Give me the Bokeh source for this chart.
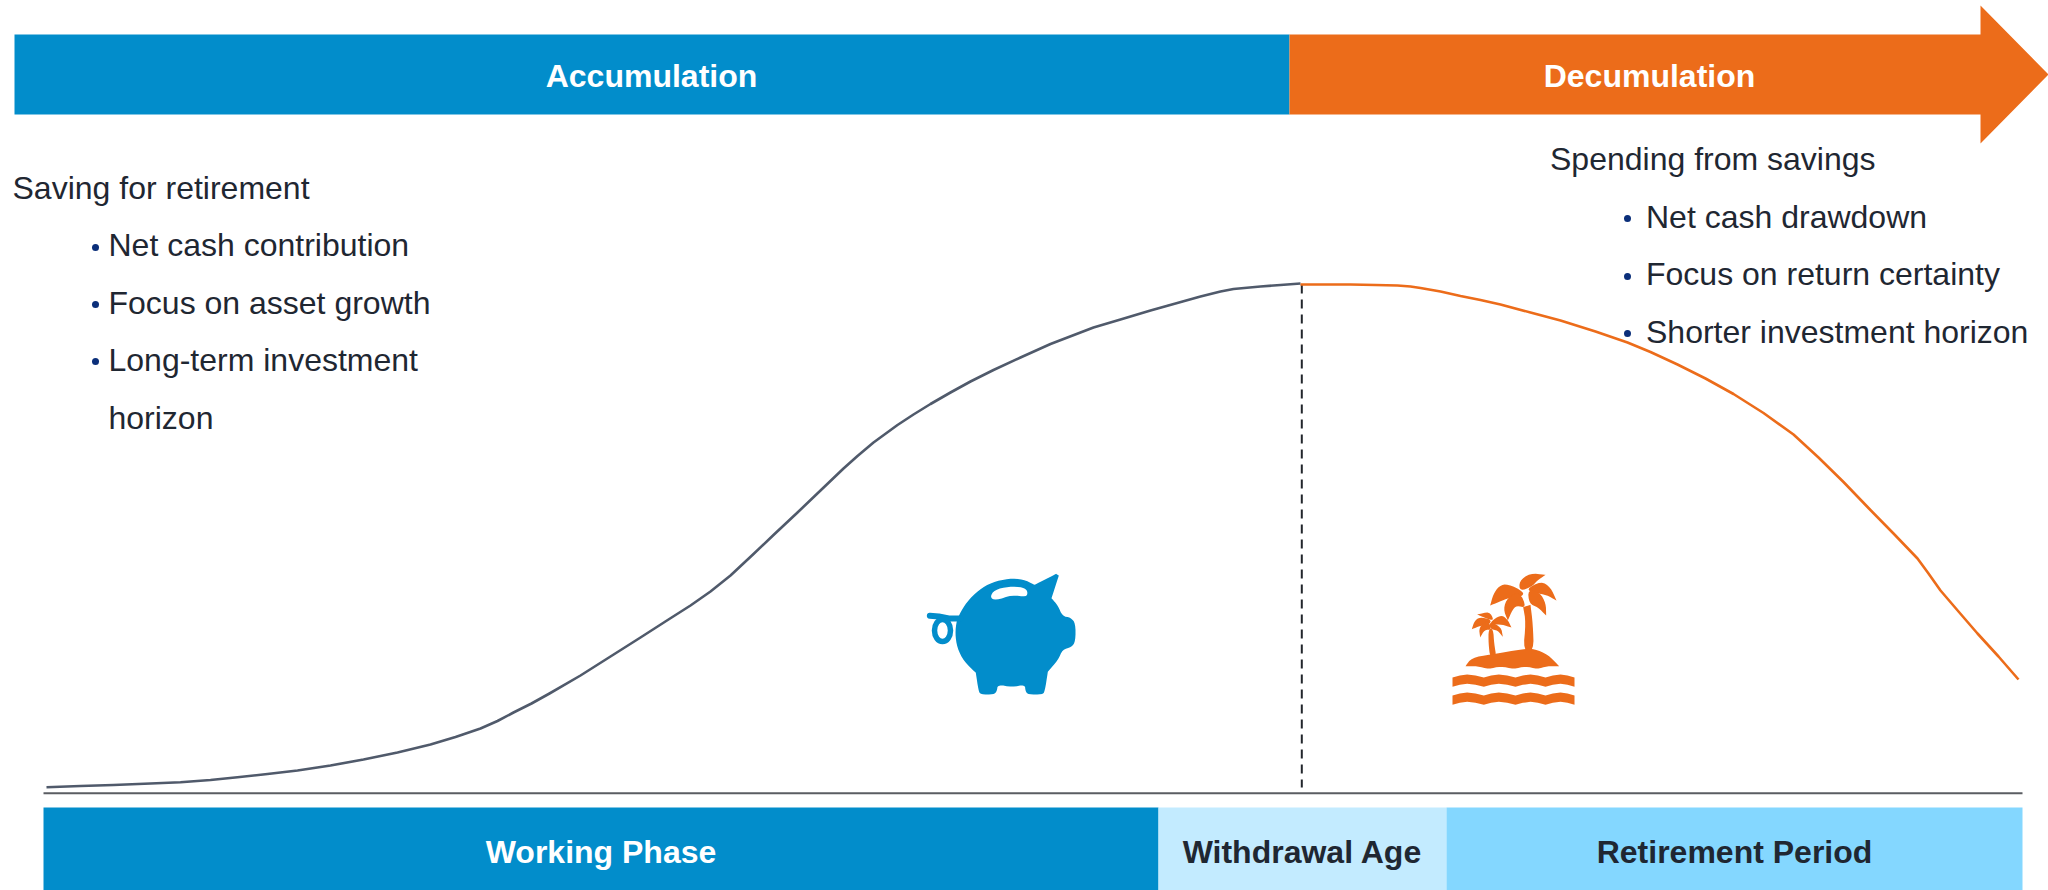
from bokeh.plotting import figure
from bokeh.embed import file_html
from bokeh.resources import INLINE
from bokeh.core.properties import value
from bokeh.models import Range1d

FONT = "Liberation Sans"
BLUE = "#028dcb"
ORANGE = "#ec6c1a"
INK = "#1f2732"

# Curves (chart coordinates = reference pixels)
accum_x = [46, 80, 113, 150, 180, 210, 237, 267, 297, 330, 363, 397, 430, 455, 480, 497, 513, 531, 549, 580, 610,
           640, 668, 690, 710, 730, 753, 773, 797, 820, 843, 857, 873, 897, 913, 930, 950, 970, 993, 1020,
           1050, 1093, 1120, 1150, 1175, 1200, 1220, 1233, 1260, 1280, 1300]
accum_y = [786.7, 785.5, 784.5, 783, 781.7, 779.5, 776.7, 773.5, 770, 765, 759, 752, 744, 736.5, 728, 720.5, 712, 703, 693, 675, 656,
           637, 619, 605, 591, 575, 553.5, 534.5, 512, 490, 468, 455.5, 442, 424.5, 414, 403.5, 392, 381, 369.5, 357,
           343.5, 327, 319, 310, 303, 296, 291, 288.5, 286, 284.5, 283]
decum_x = [1300, 1350, 1375, 1397, 1410, 1420, 1440, 1460, 1480, 1500, 1530, 1560, 1595, 1627, 1650, 1677, 1705, 1733,
           1763, 1793, 1818, 1843, 1868, 1893, 1917, 1928, 1940, 1958, 1977, 1998, 2018]
decum_y = [284, 284, 284.5, 285, 286, 287.5, 291, 295.5, 299.5, 304, 312, 320, 331, 342, 351.5, 364, 378, 393.5,
           412.5, 434, 457, 481.5, 507.5, 533, 558, 573, 590, 611, 633, 656, 679]

# Bands
top_labels = ["Accumulation", "Decumulation"]
top_label_x = [651, 1649]
bottom_labels = ["Working Phase", "Withdrawal Age", "Retirement Period"]
bottom_left = [43, 1158, 1446]
bottom_right = [1158, 1446, 2022]
bottom_colors = [BLUE, "#c3ebff", "#84d7ff"]
bottom_text_colors = ["#ffffff", INK, INK]
bottom_label_x = [600.5, 1302, 1734]

left_notes = ["Saving for retirement", "Net cash contribution", "Focus on asset growth", "Long-term investment", "horizon"]
left_note_x = [12, 108, 108, 108, 108]
left_note_y = [187, 244.5, 302, 359.5, 417]
left_bullet_x = [95, 95, 95]
left_bullet_y = [247, 304, 361]
right_notes = ["Spending from savings", "Net cash drawdown", "Focus on return certainty", "Shorter investment horizon"]
right_note_x = [1549.5, 1645.5, 1645.5, 1645.5]
right_note_y = [158, 216, 273, 331]
right_bullet_x = [1627, 1627, 1627]
right_bullet_y = [218, 276, 333]

p = figure(width=2048, height=890, x_range=Range1d(0, 2048), y_range=Range1d(890, 0),
           x_axis_type=None, y_axis_type=None, toolbar_location=None, output_backend="svg",
           min_border=0, outline_line_color=None, background_fill_color="white")
p.grid.visible = False

# top band
p.quad(left=[14], right=[1289], top=[34], bottom=[114], fill_color=BLUE, line_color=None)
p.patch(x=[1289, 1980, 1980, 2048, 1980, 1980, 1289], y=[34, 34, 5, 74, 143, 114, 114],
        fill_color=ORANGE, line_color=None)
p.text(x=top_label_x, y=[75, 75], text=top_labels, text_font=value(FONT), text_font_size="32px",
       text_font_style="bold", text_color="#ffffff", text_align="center", text_baseline="alphabetic")

# bottom bands
p.quad(left=bottom_left, right=bottom_right, top=[807] * 3, bottom=[890] * 3,
       fill_color=bottom_colors, line_color=None)
p.text(x=bottom_label_x, y=[851.5] * 3, text=bottom_labels, text_font=value(FONT), text_font_size="32px",
       text_font_style="bold", text_color=bottom_text_colors, text_align="center", text_baseline="alphabetic")
p.line(x=[43, 2022], y=[792.7, 792.7], line_color="#5a5d62", line_width=2)

# curves
p.line(x=[1301.3, 1301.3], y=[284, 787], line_color="#22262c", line_width=2, line_dash="9 6")
p.line(x=accum_x, y=accum_y, line_color="#505a6b", line_width=2.6, line_join="round")
p.line(x=decum_x, y=decum_y, line_color=ORANGE, line_width=2.6, line_join="round")

# notes
p.text(x=left_note_x, y=left_note_y, text=left_notes, text_font=value(FONT), text_font_size="32px",
       text_color=INK, text_baseline="alphabetic")
p.text(x=right_note_x, y=right_note_y, text=right_notes, text_font=value(FONT), text_font_size="32px",
       text_color=INK, text_baseline="alphabetic")
p.scatter(x=left_bullet_x + right_bullet_x, y=left_bullet_y + right_bullet_y, size=7,
          fill_color="#0b2f7a", line_color=None)


def smooth(pts, n=2):
    for _ in range(n):
        out = []
        m = len(pts)
        for i in range(m):
            a, b = pts[i], pts[(i + 1) % m]
            out.append((0.75 * a[0] + 0.25 * b[0], 0.75 * a[1] + 0.25 * b[1]))
            out.append((0.25 * a[0] + 0.75 * b[0], 0.25 * a[1] + 0.75 * b[1]))
        pts = out
    return pts


def icon(pts, ox, oy, color, p=p, do_smooth=True):
    q = smooth(pts) if do_smooth else pts
    p.patch(x=[ox + a / 3 for a, _ in q], y=[oy + b / 3 for _, b in q], fill_color=color, line_color=None)


# piggy bank icon
PX, PY = 880, 550
pig = [(236, 193), (258, 155), (295, 118), (335, 95), (385, 84), (428, 86), (462, 103), (462, 103),
       (527, 70), (527, 70), (535, 75), (535, 75), (513, 143), (513, 143), (532, 165), (546, 197), (570, 201),
       (585, 218), (585, 272), (573, 290), (546, 297), (533, 328), (502, 364), (502, 364), (493, 422), (486, 432),
       (443, 432), (435, 422), (433, 402), (395, 410), (352, 402), (349, 422), (340, 432), (300, 432), (294, 420),
       (286, 367), (286, 367), (250, 332), (230, 292), (224, 250), (228, 212)]
icon(pig, PX, PY, BLUE)
slot = [(328, 140), (342, 118), (385, 108), (428, 110), (442, 122), (438, 140), (395, 133), (345, 150)]
icon(slot, PX, PY, "#ffffff")
p.line(x=[PX + a / 3 for a in [148, 175, 205, 240]], y=[PY + b / 3 for b in [196, 198, 204, 204]],
       line_color=BLUE, line_width=6, line_cap="round", line_join="round")
p.ellipse(x=[PX + 186 / 3], y=[PY + 240 / 3], width=[48 / 3], height=[66 / 3], fill_color=None,
          line_color=BLUE, line_width=5.5)

# island icon
IX, IY = 1420, 550
shapes = [
    [(308, 302), (316, 215), (308, 170), (308, 170), (330, 163), (330, 163), (337, 220), (340, 302)],
    [(310, 124), (262, 100), (236, 106), (218, 132), (209, 165), (209, 165), (245, 150), (272, 140), (305, 138)],
    [(298, 124), (262, 140), (248, 175), (262, 210), (262, 210), (276, 178), (288, 165), (318, 172)],
    [(298, 122), (296, 92), (328, 68), (375, 73), (375, 73), (348, 92), (335, 108)],
    [(316, 116), (362, 92), (390, 110), (408, 150), (408, 150), (378, 133), (345, 128)],
    [(322, 116), (358, 126), (376, 158), (377, 195), (377, 195), (352, 170), (326, 160)],
    [(204, 235), (218, 235), (221, 280), (228, 322), (209, 322), (204, 280)],
    [(210, 206), (178, 200), (162, 211), (154, 236), (154, 236), (180, 226), (210, 220)],
    [(207, 208), (170, 192), (170, 192), (207, 183), (220, 208)],
    [(210, 214), (240, 193), (260, 205), (273, 231), (273, 231), (245, 222), (214, 222)],
    [(202, 208), (175, 230), (179, 261), (179, 261), (192, 238), (214, 238)],
    [(208, 212), (242, 230), (247, 259), (247, 259), (232, 240), (208, 235)],
    [(135, 347), (135, 347), (153, 322), (210, 312), (310, 295), (342, 295), (382, 312), (416, 347), (416, 347),
     (380, 347), (350, 356), (315, 347), (280, 356), (240, 347), (205, 356), (170, 347)],
]
for s in shapes:
    icon(s, IX, IY, ORANGE)

wave_x = [96, 118, 140, 165, 190, 212, 235, 260, 285, 307, 330, 352, 375, 397, 420, 441, 462]
wave_top = [381, 375, 372, 375, 381, 375, 372, 375, 381, 375, 372, 375, 381, 375, 372, 375, 381]
for dy in (0, 54):
    xs = wave_x + wave_x[::-1]
    ys = [b + dy for b in wave_top] + [b + dy + 28 for b in wave_top[::-1]]
    icon(list(zip(xs, ys)), IX, IY, ORANGE, do_smooth=False)

open("out.html", "w").write(file_html(p, INLINE))
